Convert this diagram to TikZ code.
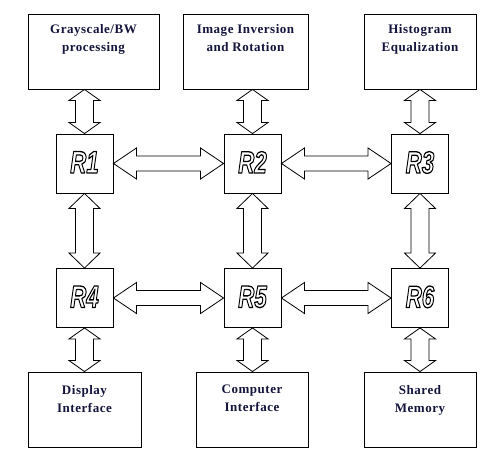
\documentclass[tikz,border=0pt]{standalone}
\usepackage{fontspec}
\setmainfont{Liberation Serif}[LetterSpace=4]
\newfontfamily\rfont{Liberation Sans}
\usepackage{graphicx}
\usetikzlibrary{calc}
\definecolor{navy}{RGB}{20,20,60}

\tikzset{
  frame/.style={draw, line width=0.9pt, inner sep=0pt, fill=white},
  bigbox/.style={frame, text=navy, font=\bfseries\fontsize{13}{18}\selectfont},
  rbox/.style={frame, minimum width=57pt, minimum height=59pt},
  fat/.style={draw, line width=0.8pt, line join=miter, fill=white},
}

\newcommand\boxtext[4]{\parbox[c][#2pt][t]{#1pt}{\centering\vspace*{#3pt}#4\par}}

\newcommand\rlabel[1]{\raisebox{2.5pt}{\scalebox{0.72}[1]{\fontsize{31}{31}\selectfont\rfont\bfseries\itshape
  \special{pdf:literal direct q 1 Tr 1.3 w 1 j}#1\special{pdf:literal direct Q}}}}

\newcommand\varr[3]{%
  \path[fat] let \p1=(#1), \p2=(#2) in
   (\x1,\y1) -- ({\x1+15.5pt},{\y1-#3pt}) -- ({\x1+9pt},{\y1-#3pt}) -- ({\x1+9pt},{\y2+#3pt})
   -- ({\x1+15.5pt},{\y2+#3pt}) -- (\x1,\y2) -- ({\x1-15.5pt},{\y2+#3pt}) -- ({\x1-9pt},{\y2+#3pt})
   -- ({\x1-9pt},{\y1-#3pt}) -- ({\x1-15.5pt},{\y1-#3pt}) -- cycle;}

\newcommand\harr[2]{%
  \path[fat] let \p1=(#1), \p2=(#2) in
   (\x1,\y1) -- ({\x1+23pt},{\y1+15.5pt}) -- ({\x1+23pt},{\y1+7.5pt}) -- ({\x2-23pt},{\y1+7.5pt})
   -- ({\x2-23pt},{\y1+15.5pt}) -- (\x2,\y1) -- ({\x2-23pt},{\y1-15.5pt}) -- ({\x2-23pt},{\y1-7.5pt})
   -- ({\x1+23pt},{\y1-7.5pt}) -- ({\x1+23pt},{\y1-15.5pt}) -- cycle;}

\begin{document}
\begin{tikzpicture}[x=1pt,y=-1pt]
\useasboundingbox (0,0) rectangle (491,460);

% top boxes
\node[bigbox] (g1) at (93.5,51.5) {\boxtext{131}{75}{10}{Grayscale/BW\\processing}};
\node[bigbox] (g2) at (245.5,51.5) {\boxtext{125}{75}{10}{Image Inversion\\and Rotation}};
\node[bigbox] (g3) at (420,51.5) {\boxtext{112}{75}{10}{Histogram\\Equalization}};

% bottom boxes
\node[bigbox] (d1) at (84.5,409.5) {\boxtext{113}{75}{13}{Display\\Interface}};
\node[bigbox] (d2) at (252,409.5) {\boxtext{112}{75}{13}{Computer\\Interface}};
\node[bigbox] (d3) at (420,409.5) {\boxtext{112}{75}{13}{Shared\\Memory}};

% routers
\node[rbox] (R1) at (84.5,163.5) {\rlabel{R1}};
\node[rbox] (R2) at (252.5,163.5) {\rlabel{R2}};
\node[rbox] (R3) at (420,163.5) {\rlabel{R3}};
\node[rbox] (R4) at (84.5,298) {\rlabel{R4}};
\node[rbox] (R5) at (252.5,298) {\rlabel{R5}};
\node[rbox] (R6) at (420,298) {\rlabel{R6}};

% vertical arrows
\varr{R1.north |- g1.south}{R1.north}{11}
\varr{R2.north |- g2.south}{R2.north}{11}
\varr{R3.north |- g3.south}{R3.north}{11}
\varr{R1.south}{R4.north}{15}
\varr{R2.south}{R5.north}{15}
\varr{R3.south}{R6.north}{15}
\varr{R4.south}{R4.south |- d1.north}{11}
\varr{R5.south}{R5.south |- d2.north}{11}
\varr{R6.south}{R6.south |- d3.north}{11}

% horizontal arrows
\harr{R1.east}{R2.west}
\harr{R2.east}{R3.west}
\harr{R4.east}{R5.west}
\harr{R5.east}{R6.west}
\end{tikzpicture}
\end{document}
